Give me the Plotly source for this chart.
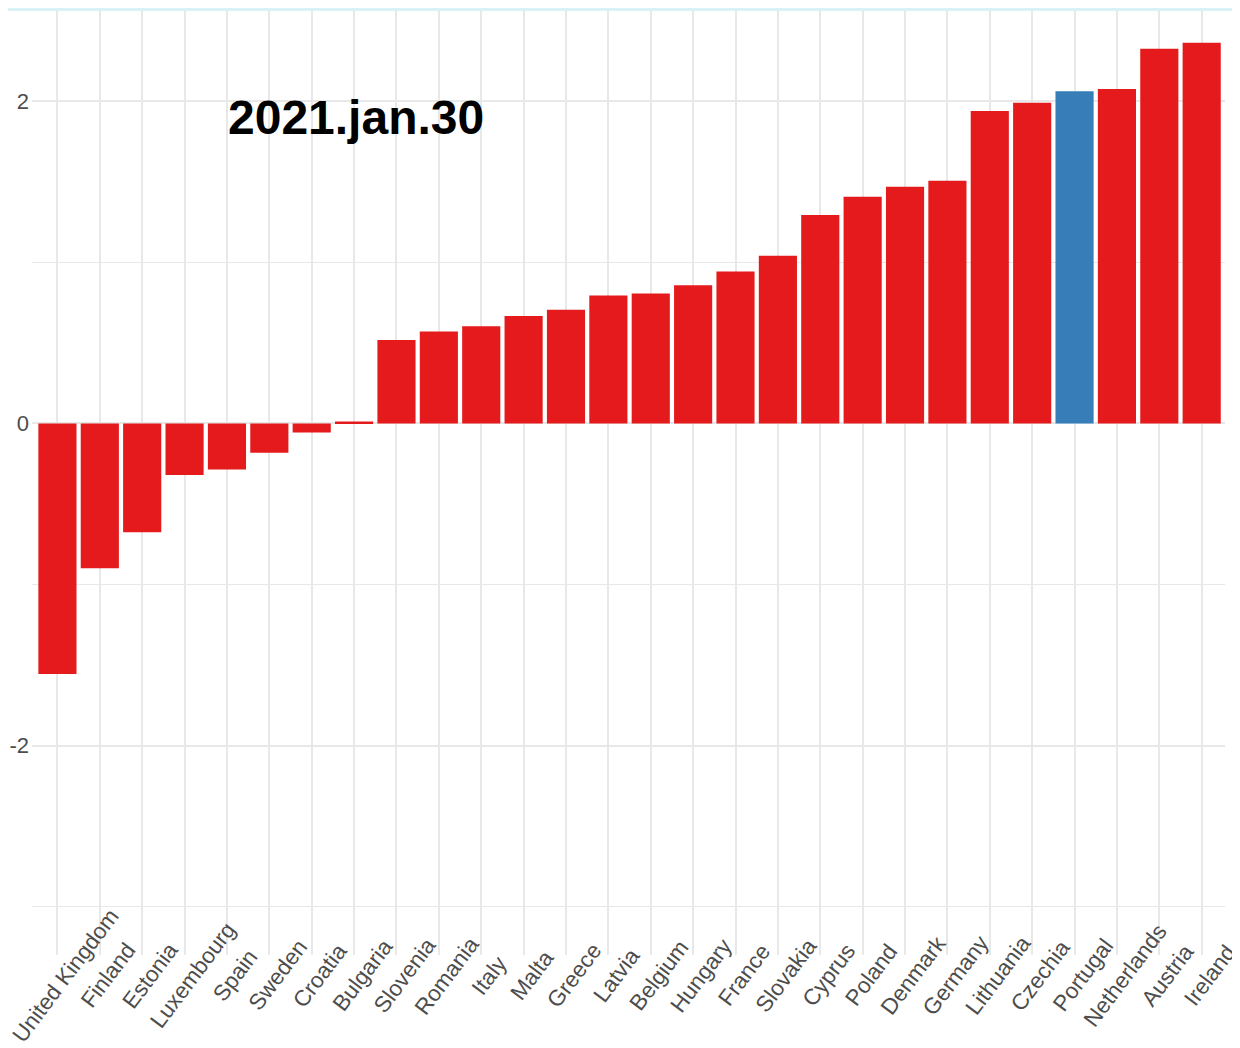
import plotly.graph_objects as go

countries = ["United Kingdom", "Finland", "Estonia", "Luxembourg", "Spain", "Sweden",
             "Croatia", "Bulgaria", "Slovenia", "Romania", "Italy", "Malta", "Greece",
             "Latvia", "Belgium", "Hungary", "France", "Slovakia", "Cyprus", "Poland",
             "Denmark", "Germany", "Lithuania", "Czechia", "Portugal", "Netherlands",
             "Austria", "Ireland"]
values = [-1.555, -0.899, -0.675, -0.321, -0.286, -0.182,
          -0.056, 0.012, 0.517, 0.570, 0.603, 0.667, 0.706,
          0.794, 0.807, 0.858, 0.943, 1.041, 1.294, 1.407,
          1.469, 1.506, 1.940, 1.990, 2.062, 2.076,
          2.326, 2.363]
highlight = "Portugal"
major_ticks = [-2, 0, 2]
major_tick_text = ["-2", "0", "2"]
minor_ticks = [-3, -1, 1]
date_label = "2021.jan.30"

RED = "#E41A1C"
BLUE = "#377EB8"
GRID = "#e8e8e8"

# page has an 8px body margin; figure coordinates below are relative to the figure
OFF = 8
W, H = 1232, 1040
ML, MR, MT, MB = 32 - OFF, 15, 11 - OFF, 93
plot_h = H - MT - MB
plot_w = W - ML - MR

colors = [BLUE if c == highlight else RED for c in countries]

fig = go.Figure(go.Bar(
    x=countries, y=values,
    marker=dict(color=colors, line=dict(width=0)),
    showlegend=False,
))

def py(page_px):
    fig_px = page_px - OFF
    return (H - MB - fig_px) / plot_h

def px_x(page_px):
    return (page_px - OFF - ML) / plot_w

annotations = []
for c in countries:
    annotations.append(dict(
        x=c, xref="x", y=py(975), yref="paper",
        text=c, textangle=-53, showarrow=False,
        xanchor="center", yanchor="middle", xshift=8,
        font=dict(family="Liberation Sans, Arial", size=22.5, color="#4d4d4d"),
    ))
annotations.append(dict(
    x=px_x(356), xref="paper", y=py(118), yref="paper",
    text="<b>" + date_label + "</b>", showarrow=False,
    xanchor="center", yanchor="middle",
    font=dict(family="Liberation Sans, Arial", size=48, color="#000000"),
))

fig.update_layout(
    width=W, height=H,
    margin=dict(l=ML, r=MR, t=MT, b=MB, autoexpand=False),
    paper_bgcolor="white", plot_bgcolor="white",
    bargap=0.1,
    annotations=annotations,
    shapes=[dict(type="rect", xref="paper", yref="paper",
                 x0=-1, x1=2, y0=1, y1=1 + (MT + 1) / plot_h,
                 fillcolor="#daf2f5", line=dict(width=0), layer="above")],
)
fig.update_xaxes(
    type="category", range=[-0.6, 27.55],
    showgrid=True, gridcolor=GRID, gridwidth=1.5,
    showticklabels=False, ticks="", zeroline=False, showline=False,
)
fig.update_yaxes(
    range=[-3.30, 2.56],
    tickvals=major_ticks, ticktext=major_tick_text,
    showgrid=True, gridcolor=GRID, gridwidth=1.8,
    minor=dict(tickvals=minor_ticks, showgrid=True, gridcolor=GRID, gridwidth=1.4),
    zeroline=False, showline=False, ticks="",
    ticklabelstandoff=2,
    tickfont=dict(family="Liberation Sans, Arial", size=22, color="#4d4d4d"),
)

fig.write_html("out.html")
